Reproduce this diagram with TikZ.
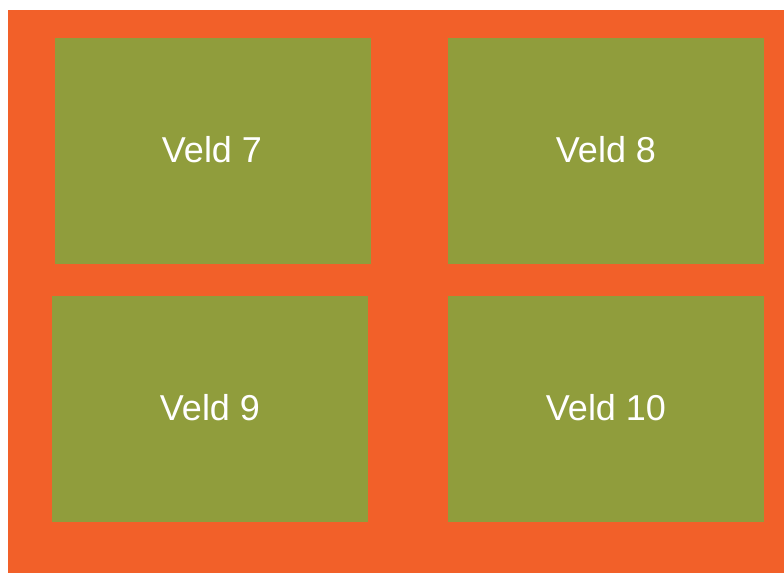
\documentclass[tikz,border=0pt]{standalone}
\usepackage{fontspec}
\setmainfont{Liberation Sans}
\definecolor{bgorange}{RGB}{242,96,41}
\definecolor{fieldgreen}{RGB}{144,157,60}
\tikzset{
  field/.style={fill=fieldgreen, draw=none, inner sep=0pt},
  fieldlabel/.style={text=white, font=\fontsize{36}{40}\selectfont, inner sep=0pt}
}
\begin{document}
\begin{tikzpicture}[x=1pt,y=-1pt]
\useasboundingbox (0,0) rectangle (784,573);
\fill[bgorange] (8,10) rectangle (784,573);
\fill[field] (55,38) rectangle (371,264);
\fill[field] (448,38) rectangle (764,264);
\fill[field] (52,296) rectangle (368,522);
\fill[field] (448,296) rectangle (764,522);
\node[fieldlabel] (v7) at (212,150) {Veld 7};
\node[fieldlabel] (v8) at (606,150) {Veld 8};
\node[fieldlabel] (v9) at (210,408) {Veld 9};
\node[fieldlabel] (v10) at (606,408) {Veld 10};
\end{tikzpicture}
\end{document}
